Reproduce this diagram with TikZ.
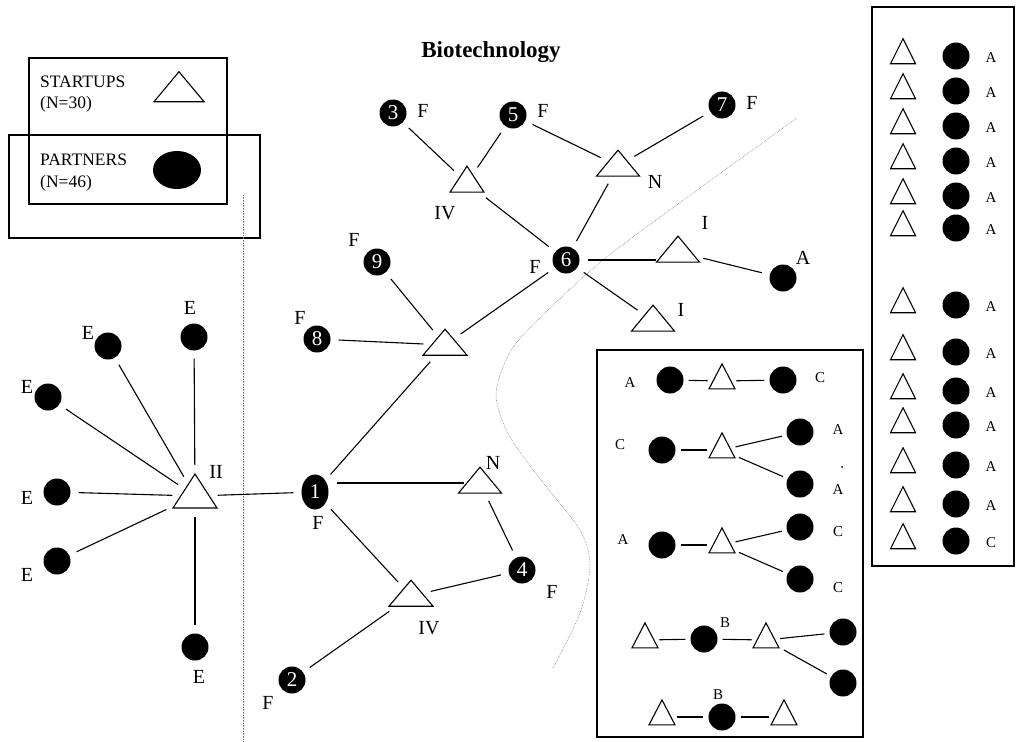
\documentclass[tikz,border=0pt]{standalone}
\usepackage{fontspec}
\setmainfont{Liberation Serif}
\usetikzlibrary{shapes.geometric}
\begin{document}
\begin{tikzpicture}[x=1pt,y=-1pt,
  every node/.style={inner sep=0pt},
  dot/.style={circle,fill=black,minimum size=27pt},
  num/.style={dot,text=white,font=\fontsize{21}{21}\selectfont},
  tri/.style={isosceles triangle,isosceles triangle stretches,shape border rotate=90,draw,line width=1.1pt,fill=white,minimum width=43pt,minimum height=26pt},
  stri/.style={tri,minimum width=26pt,minimum height=25pt},
  lbl/.style={font=\fontsize{20}{20}\selectfont},
  slbl/.style={font=\fontsize{15}{15}\selectfont},
  leg/.style={font=\fontsize{17.5}{17.5}\selectfont,anchor=west},
  link/.style={line width=1.1pt,shorten >=8pt,shorten <=8pt},
  frame/.style={line width=1.1pt},
  border/.style={densely dotted,line width=0.6pt,gray}
]
\useasboundingbox (0,0) rectangle (1016,741);
% legend
\draw[frame] (29,58) rectangle (227,204);
\draw[frame] (9,135) rectangle (260,238);
\node[leg] (ls) at (40,82) {STARTUPS};
\node[leg] (ln30) at (40,104) {(N=30)};
\node[leg] (lp) at (40,160) {PARTNERS};
\node[leg] (ln46) at (40,183) {(N=46)};
\node[tri,minimum width=50pt,minimum height=30pt] (ltri) at (179,90) {};
\node[ellipse,fill=black,minimum width=48pt,minimum height=38pt] (lell) at (177,170) {};
% title
\node[font=\fontsize{23}{23}\selectfont\bfseries] (title) at (491,52) {Biotechnology};
% dividers
\draw[border] (243,195) -- (243,741);
\draw[border] plot[smooth] coordinates {(797,118) (700,188) (603,260) (540,318) (510,352) (496,395) (510,437) (545,485) (580,530) (590,565) (580,613) (553,668)};
% main nodes
\node[num] (n3) at (393,113) {3};
\node[num] (n5) at (513,115) {5};
\node[num] (n7) at (722,105) {7};
\node[num] (n6) at (566,260) {6};
\node[num] (n9) at (377,262) {9};
\node[num] (n8) at (317,339) {8};
\node[num,ellipse,minimum width=27pt,minimum height=35pt] (n1) at (315,492) {1};
\node[num] (n4) at (522,570) {4};
\node[num] (n2) at (292,680) {2};
\node[dot] (nA) at (783,278) {};
\node[tri,minimum width=34pt] (tIVa) at (467,183) {};
\node[tri] (tNa) at (618,166) {};
\node[tri] (tIa) at (678,252) {};
\node[tri] (tIb) at (653,321) {};
\node[tri,minimum width=44pt] (tC) at (445,345) {};
\node[tri] (tNb) at (480,483) {};
\node[tri,minimum width=44pt] (tIVb) at (411,596) {};
\node[tri,minimum width=44pt,minimum height=34pt] (tII) at (195,496) {};
\node[dot] (e1) at (194,337) {};
\node[dot] (e2) at (108,346) {};
\node[dot] (e3) at (48,397) {};
\node[dot] (e4) at (57,492) {};
\node[dot] (e5) at (57,561) {};
\node[dot] (e6) at (195,647) {};
% main labels
\node[lbl] (f3) at (423,111) {F};
\node[lbl] (f5) at (543,111) {F};
\node[lbl] (f7) at (752,103) {F};
\node[lbl] (f6) at (535,267) {F};
\node[lbl] (f9) at (354,240) {F};
\node[lbl] (f8) at (300,318) {F};
\node[lbl] (f1) at (318,523) {F};
\node[lbl] (f4) at (552,592) {F};
\node[lbl] (f2) at (268,703) {F};
\node[lbl] (lIVa) at (445,213) {IV};
\node[lbl] (lNa) at (655,182) {N};
\node[lbl] (lIa) at (705,223) {I};
\node[lbl] (lA) at (803,258) {A};
\node[lbl] (lIb) at (681,310) {I};
\node[lbl] (lNb) at (493,463) {N};
\node[lbl] (lIVb) at (429,628) {IV};
\node[lbl] (lII) at (216,472) {II};
\node[lbl] (le1) at (190,308) {E};
\node[lbl] (le2) at (88,333) {E};
\node[lbl] (le3) at (27,387) {E};
\node[lbl] (le4) at (27,498) {E};
\node[lbl] (le5) at (27,575) {E};
\node[lbl] (le6) at (199,677) {E};
% main links
\foreach \a/\b in {n3/tIVa,n5/tIVa,n5/tNa,n7/tNa,tIVa/n6,tNa/n6,tIa/nA,n6/tIb,n6/tC,n9/tC,n8/tC,tC/n1,n1/tII,tNb/n4,n1/tIVb,tIVb/n4,tIVb/n2,tII/e1,tII/e2,tII/e3,tII/e4,tII/e5,tII/e6}
  \draw[link] (\a) -- (\b);
\draw[link] (n6) -- (n6 -| tIa.west);
\draw[link,shorten >=2pt] (n1.east |- tNb.west) -- (tNb.west);
% inner example box
\draw[frame] (597,350) rectangle (863,737);
\node[dot] (r1a) at (670,380) {};
\node[stri] (r1t) at (722,381) {};
\node[dot] (r1b) at (783,380) {};
\node[slbl] (r1la) at (630,383) {A};
\node[slbl] (r1lc) at (820,378) {C};
\node[dot] (r2a) at (662,450) {};
\node[stri] (r2t) at (722,450) {};
\node[dot] (r2b) at (800,432) {};
\node[dot] (r2c) at (800,484) {};
\node[slbl] (r2l1) at (620,445) {C};
\node[slbl] (r2l2) at (838,430) {A};
\node[slbl] (r2l3) at (838,490) {A};
\node[circle,fill=black,minimum size=2pt] (r2dot) at (842,467) {};
\node[dot] (r3a) at (662,545) {};
\node[stri] (r3t) at (722,545) {};
\node[dot] (r3b) at (800,527) {};
\node[dot] (r3c) at (800,579) {};
\node[slbl] (r3l1) at (623,540) {A};
\node[slbl] (r3l2) at (838,532) {C};
\node[slbl] (r3l3) at (838,588) {C};
\node[stri] (r4a) at (645,640) {};
\node[dot] (r4b) at (704,639) {};
\node[stri] (r4t) at (766,640) {};
\node[dot] (r4c) at (843,632) {};
\node[dot] (r4d) at (843,683) {};
\node[slbl] (r4l) at (725,623) {B};
\node[stri] (r5a) at (662,717) {};
\node[dot] (r5b) at (722,717) {};
\node[stri] (r5c) at (784,717) {};
\node[slbl] (r5l) at (718,695) {B};
\foreach \a/\b in {r1a/r1t,r1t/r1b,r2a/r2t,r2t/r2b,r2t/r2c,r3a/r3t,r3t/r3b,r3t/r3c,r4a/r4b,r4b/r4t,r4t/r4c,r4t/r4d,r5a/r5b,r5b/r5c}
  \draw[link,shorten >=5pt,shorten <=5pt] (\a) -- (\b);
% right column box
\draw[frame] (872,7) rectangle (1014,566);
\foreach \i/\y/\l in {1/56/A,2/91/A,3/126/A,4/161/A,5/196/A,6/228/A,7/305/A,8/352/A,9/391/A,10/425/A,11/465/A,12/504/A,13/541/C}{
  \node[stri,minimum width=25pt] (kt\i) at (903,\y) {};
  \node[dot] (kc\i) at (956,\y) {};
  \node[slbl] (kl\i) at (991,\y+2) {\l};
}
\end{tikzpicture}
\end{document}
